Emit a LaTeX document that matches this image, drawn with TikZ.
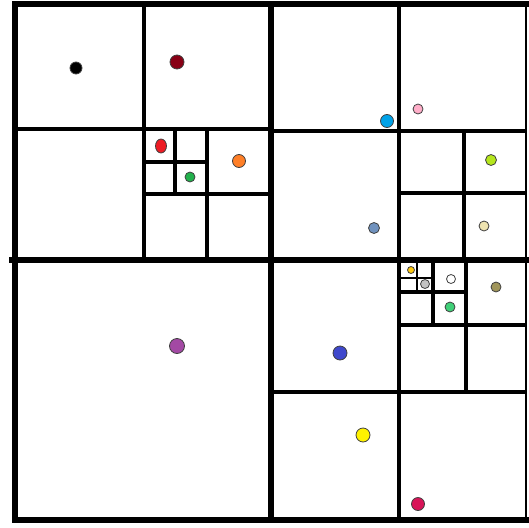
\documentclass[tikz,border=0pt]{standalone}
\usetikzlibrary{shapes.geometric}
\begin{document}
\begin{tikzpicture}[x=1pt,y=-1pt,
  lone/.style={line width=6pt,line cap=rect},
  ltwo/.style={line width=3.8pt},
  lthree/.style={line width=3.6pt},
  lfour/.style={line width=3.3pt},
  lfive/.style={line width=2.2pt},
  dot/.style={circle,draw=black!75,line width=0.8pt,inner sep=0pt,minimum size=#1},
  dot/.default=12pt]
\useasboundingbox[fill=white] (0,0) rectangle (529,527);
% outer frame
\draw[lone] (15,520) -- (15,4) -- (529,4);
\draw[lone] (15,520) -- (529,520);
\draw[line width=2pt] (526,4) -- (526,520);
% level 1
\draw[lone] (271,4) -- (271,520);
\draw[lone] (12,260) -- (526,260);
% top-left quadrant
\draw[ltwo] (144,4) -- (144,260);
\draw[ltwo] (15,129) -- (271,129);
\draw[lthree] (207,129) -- (207,260);
\draw[lthree] (144,194) -- (271,194);
\draw[lfour] (175,129) -- (175,194);
\draw[lfour] (144,162) -- (207,162);
% top-right quadrant
\draw[ltwo] (399,4) -- (399,260);
\draw[ltwo] (271,131) -- (526,131);
\draw[lthree] (464,131) -- (464,260);
\draw[lthree] (399,193) -- (526,193);
% bottom-right quadrant
\draw[ltwo] (399,260) -- (399,520);
\draw[ltwo] (271,392) -- (526,392);
\draw[lthree] (466,260) -- (466,392);
\draw[lthree] (399,325) -- (526,325);
\draw[lfour] (433,260) -- (433,325);
\draw[lfour] (399,292) -- (466,292);
\draw[lfive] (417,260) -- (417,292);
\draw[lfive] (399,278) -- (433,278);
% points
\node[dot=12pt,fill=black] (pblack) at (76,68) {};
\node[dot=14pt,fill={rgb,255:red,136;green,0;blue,21}] (pdarkred) at (177,62) {};
\node[dot=12pt,fill={rgb,255:red,237;green,28;blue,36},ellipse,minimum width=11pt,minimum height=14pt] (pred) at (161,146) {};
\node[dot=10pt,fill={rgb,255:red,34;green,177;blue,76}] (pgreen) at (190,177) {};
\node[dot=13pt,fill={rgb,255:red,255;green,127;blue,39}] (porange) at (239,161) {};
\node[dot=13pt,fill={rgb,255:red,0;green,162;blue,232}] (pblue) at (387,121) {};
\node[dot=10pt,fill={rgb,255:red,255;green,174;blue,201}] (ppink) at (418,109) {};
\node[dot=11pt,fill={rgb,255:red,181;green,230;blue,29}] (plime) at (491,160) {};
\node[dot=11pt,fill={rgb,255:red,112;green,146;blue,190}] (pgrayblue) at (374,228) {};
\node[dot=10pt,fill={rgb,255:red,239;green,228;blue,176}] (pbeige) at (484,226) {};
\node[dot=15pt,fill={rgb,255:red,163;green,73;blue,164}] (ppurple) at (177,346) {};
\node[dot=14pt,fill={rgb,255:red,63;green,72;blue,204}] (pindigo) at (340,353) {};
\node[dot=14pt,fill={rgb,255:red,255;green,242;blue,0}] (pyellow) at (363,435) {};
\node[dot=13pt,fill={rgb,255:red,216;green,20;blue,88}] (pcrimson) at (418,504) {};
\node[dot=7pt,fill={rgb,255:red,255;green,201;blue,14}] (pgold) at (411,270) {};
\node[dot=9pt,fill={rgb,255:red,195;green,195;blue,195}] (pgray) at (425,284) {};
\node[dot=9pt,fill=white] (pwhite) at (451,279) {};
\node[dot=10pt,fill={rgb,255:red,64;green,208;blue,120}] (pmint) at (450,307) {};
\node[dot=10pt,fill={rgb,255:red,160;green,149;blue,90}] (polive) at (496,287) {};
\end{tikzpicture}
\end{document}
